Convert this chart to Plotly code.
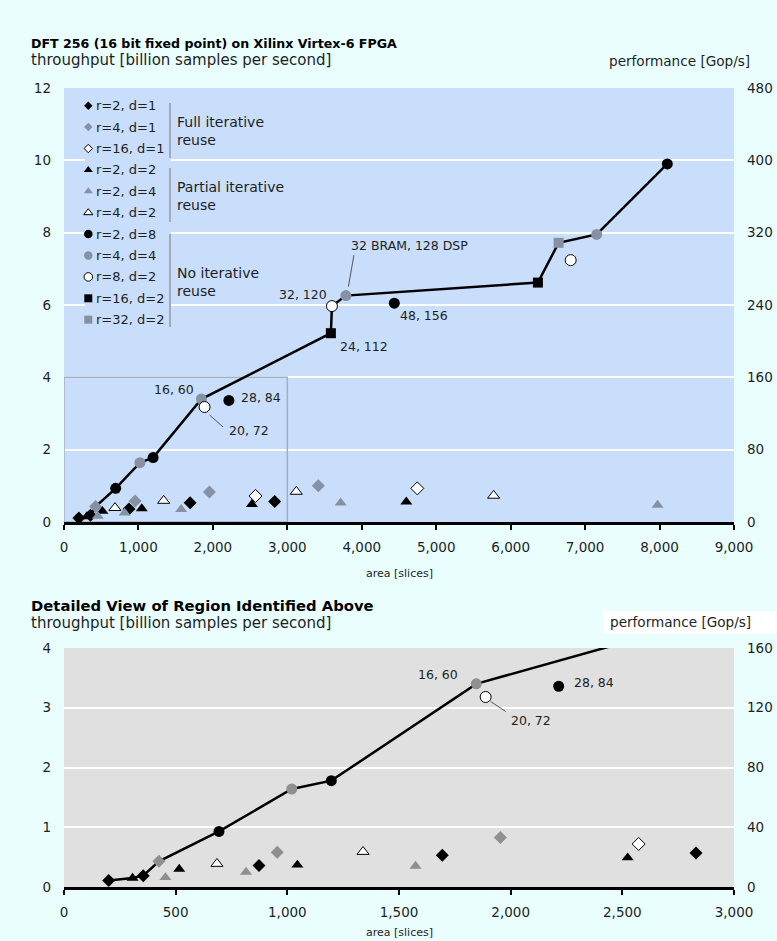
import plotly.graph_objects as go

# ---------------- data: area [slices] vs. throughput [billion samples/s] ----------------
r2d1_area = [200, 355, 873, 1694, 2830]
r2d1_tp = [0.11, 0.19, 0.36, 0.53, 0.57]
r4d1_area = [425, 955, 1954, 3416]
r4d1_tp = [0.43, 0.58, 0.83, 1.00]
r16d1_area = [2573, 4746]
r16d1_tp = [0.72, 0.93]
r2d2_area = [307, 516, 1045, 2524, 4598]
r2d2_tp = [0.15, 0.30, 0.37, 0.49, 0.56]
r2d4_area = [454, 815, 1574, 3716, 7974]
r2d4_tp = [0.16, 0.25, 0.35, 0.53, 0.47]
r4d2_area = [685, 1339, 3120, 5771]
r4d2_tp = [0.39, 0.59, 0.84, 0.73]
r2d8_area = [694, 1197, 2215, 4437, 8104]
r2d8_tp = [0.93, 1.78, 3.36, 6.05, 9.90]
r4d4_area = [1020, 1846, 3787, 7155]
r4d4_tp = [1.64, 3.40, 6.26, 7.95]
r8d2_area = [1888, 3599, 6806]
r8d2_tp = [3.18, 5.97, 7.24]
r16d2_area = [3585, 6366]
r16d2_tp = [5.22, 6.62]
r32d2_area = [6644]
r32d2_tp = [7.72]

# Pareto frontier (area, throughput)
front_area = [200, 307, 355, 425, 694, 1020, 1197, 1846, 3585, 3599, 3787, 6366, 6644, 7155, 8104]
front_tp = [0.11, 0.15, 0.19, 0.43, 0.93, 1.64, 1.78, 3.40, 5.22, 5.97, 6.26, 6.62, 7.72, 7.95, 9.90]

# performance [Gop/s] = throughput * 40
GOPS_PER_GSPS = 40

top_xticks = list(range(0, 9001, 1000))
bot_xticks = list(range(0, 3001, 500))

series = [
    # name, area, tp, symbol, fill
    ("r=2, d=1", r2d1_area, r2d1_tp, "diamond", "black"),
    ("r=4, d=1", r4d1_area, r4d1_tp, "diamond", "gray"),
    ("r=16, d=1", r16d1_area, r16d1_tp, "diamond", "white"),
    ("r=2, d=2", r2d2_area, r2d2_tp, "triangle-up", "black"),
    ("r=2, d=4", r2d4_area, r2d4_tp, "triangle-up", "gray"),
    ("r=4, d=2", r4d2_area, r4d2_tp, "triangle-up", "white"),
    ("r=2, d=8", r2d8_area, r2d8_tp, "circle", "black"),
    ("r=4, d=4", r4d4_area, r4d4_tp, "circle", "gray"),
    ("r=8, d=2", r8d2_area, r8d2_tp, "circle", "white"),
    ("r=16, d=2", r16d2_area, r16d2_tp, "square", "black"),
    ("r=32, d=2", r32d2_area, r32d2_tp, "square", "gray"),
]

# ---------------- page geometry (pixels) ----------------
W, H = 777, 941
PX_L, PX_R = 64, 734
TOP_T, TOP_B = 88, 522
BOT_T, BOT_B = 648, 887
FONT = "DejaVu Sans"
TXT = "#1e1e1e"
PAGE_BG = "#EAFEFE"
TOP_BG = "#C9DEFA"
BOT_BG = "#E0E0E0"
GRAY_TOP = "#8691A4"
GRAY_BOT = "#8F8F8F"

SIZES = {"diamond": 10, "triangle-up": 10.5, "circle": 11, "square": 10}


def px(xp):
    return xp / W


def py(yp):
    return 1 - yp / H


def top_data(xp, yp):
    return ((xp - PX_L) * 9000 / (PX_R - PX_L), (TOP_B - yp) * 12 / (TOP_B - TOP_T))


def marker(symbol, fill, gray, size):
    if fill == "white":
        return dict(symbol=symbol, size=size, color="white", line=dict(color="black", width=1))
    col = "black" if fill == "black" else gray
    return dict(symbol=symbol, size=size, color=col, line=dict(width=0))


fig = go.Figure()

# frontier line in both panels
for xa, ya in (("x", "y"), ("x2", "y3")):
    fig.add_trace(go.Scatter(x=front_area, y=front_tp, mode="lines", xaxis=xa, yaxis=ya,
                             line=dict(color="black", width=2.5), showlegend=False,
                             hoverinfo="skip"))

# design points in both panels
for xa, ya, gray in (("x", "y", GRAY_TOP), ("x2", "y3", GRAY_BOT)):
    for name, a, t, sym, fill in series:
        fig.add_trace(go.Scatter(x=a, y=t, mode="markers", name=name, xaxis=xa, yaxis=ya,
                                 marker=marker(sym, fill, gray, SIZES[sym]), showlegend=False))

# empty traces that pin the right-hand performance axes
fig.add_trace(go.Scatter(x=[None], y=[None], xaxis="x", yaxis="y2", showlegend=False))
fig.add_trace(go.Scatter(x=[None], y=[None], xaxis="x2", yaxis="y4", showlegend=False))

shapes = []
annotations = []

# plot-area backgrounds
shapes.append(dict(type="rect", xref="x domain", yref="y domain", x0=0, x1=1, y0=0, y1=1,
                   fillcolor=TOP_BG, line=dict(width=0), layer="below"))
shapes.append(dict(type="rect", xref="x2 domain", yref="y3 domain", x0=0, x1=1, y0=0, y1=1,
                   fillcolor=BOT_BG, line=dict(width=0), layer="below"))

# white box behind the lower panel's right-axis title
shapes.append(dict(type="rect", xref="paper", yref="paper", x0=px(603), x1=1,
                   y0=py(634), y1=py(611), fillcolor="white", line=dict(width=0), layer="below"))

# region shown in the detailed view
shapes.append(dict(type="rect", xref="x", yref="y", x0=0, x1=3000, y0=0, y1=4,
                   line=dict(color="#A2B0C4", width=1.5), fillcolor="rgba(0,0,0,0)",
                   layer="between"))

# ---------------- custom legend ----------------
lx0, ly0 = top_data(85, 95)
lx1, ly1 = top_data(171, 334)
shapes.append(dict(type="rect", xref="x", yref="y", x0=lx0, x1=lx1, y0=ly1, y1=ly0,
                   fillcolor=TOP_BG, line=dict(width=0), layer="between"))

LEG_X_MARK = 88.3
LEG_X_TEXT = 93.5
LEG_Y0 = 105.7
LEG_DY = 21.4
LEG_SIZES = {"diamond": 6.5, "triangle-up": 8, "circle": 8.5, "square": 8}
for i, (name, a, t, sym, fill) in enumerate(series):
    yp = LEG_Y0 + i * LEG_DY
    mx, my = top_data(LEG_X_MARK, yp)
    fig.add_trace(go.Scatter(x=[mx], y=[my], mode="markers", xaxis="x", yaxis="y",
                             marker=marker(sym, fill, GRAY_TOP, LEG_SIZES[sym]),
                             showlegend=False, hoverinfo="skip", cliponaxis=False))
    annotations.append(dict(text=name, xref="paper", yref="paper", x=px(LEG_X_TEXT), y=py(yp),
                            xanchor="left", yanchor="middle", showarrow=False,
                            font=dict(family=FONT, size=13, color=TXT)))

groups = [("Full iterative<br>reuse", 103, 158, 131),
          ("Partial iterative<br>reuse", 168, 222, 196),
          ("No iterative<br>reuse", 234, 327, 282)]
for label, g0, g1, gy in groups:
    shapes.append(dict(type="line", xref="paper", yref="paper", x0=px(170), x1=px(170),
                       y0=py(g0), y1=py(g1), line=dict(color="#7A7A7A", width=1), layer="above"))
    annotations.append(dict(text=label, xref="paper", yref="paper", x=px(175), y=py(gy),
                            xanchor="left", yanchor="middle", align="left", showarrow=False,
                            font=dict(family=FONT, size=14, color=TXT)))

# ---------------- point labels (BRAM, DSP) ----------------
LBL = dict(family=FONT, size=12.5, color=TXT)


def point_label(xa, ya, x, y, text, anchor, dx, dy):
    annotations.append(dict(text=text, xref=xa, yref=ya, x=x, y=y, xanchor=anchor,
                            yanchor="middle", xshift=dx, yshift=dy, showarrow=False, font=LBL))


def leader(xa, ya, x, y, ox0, oy0, ox1, oy1):
    shapes.append(dict(type="line", xref=xa, yref=ya, xsizemode="pixel", ysizemode="pixel",
                       xanchor=x, yanchor=y, x0=ox0, y0=oy0, x1=ox1, y1=oy1,
                       line=dict(color="#555555", width=1), layer="above"))


# top panel
point_label("x", "y", r4d4_area[1], r4d4_tp[1], "16, 60", "right", -5, 10)
point_label("x", "y", r8d2_area[0], r8d2_tp[0], "20, 72", "left", 22, -24)
leader("x", "y", r8d2_area[0], r8d2_tp[0], 5, -8, 18.5, -20)
point_label("x", "y", r2d8_area[2], r2d8_tp[2], "28, 84", "left", 10, 3)
point_label("x", "y", r16d2_area[0], r16d2_tp[0], "24, 112", "left", 7, -13)
point_label("x", "y", r8d2_area[1], r8d2_tp[1], "32, 120", "right", -3, 12)
point_label("x", "y", r2d8_area[3], r2d8_tp[3], "48, 156", "left", 4, -12)
point_label("x", "y", r4d4_area[2], r4d4_tp[2], "32 BRAM, 128 DSP", "left", 3, 50)
leader("x", "y", r4d4_area[2], r4d4_tp[2], 2.5, 9, 8, 40.5)

# bottom panel
point_label("x2", "y3", r4d4_area[1], r4d4_tp[1], "16, 60", "right", -16, 9)
point_label("x2", "y3", r8d2_area[0], r8d2_tp[0], "20, 72", "left", 23, -23)
leader("x2", "y3", r8d2_area[0], r8d2_tp[0], 5, -4.5, 20, -14.5)
point_label("x2", "y3", r2d8_area[2], r2d8_tp[2], "28, 84", "left", 13, 4)

# ---------------- titles ----------------
def text(t, xp, yp, size, bold=False, anchor="left", **kw):
    annotations.append(dict(text=f"<b>{t}</b>" if bold else t, xref="paper", yref="paper",
                            x=px(xp), y=py(yp), xanchor=anchor, yanchor="middle",
                            showarrow=False, font=dict(family=FONT, size=size, color="black" if bold else TXT),
                            **kw))


text("DFT 256 (16 bit fixed point) on Xilinx Virtex-6 FPGA", 29, 43, 12.6, bold=True)
text("throughput [billion samples per second]", 29, 60, 15)
text("performance [Gop/s]", 752, 61, 13.6, anchor="right")
text("area [slices]", 399, 573, 11, anchor="center")

text("Detailed View of Region Identified Above", 29, 605, 14.8, bold=True)
text("throughput [billion samples per second]", 29, 623, 15)
text("performance [Gop/s]", 753, 622, 13.6, anchor="right")
text("area [slices]", 399, 932, 11, anchor="center")

# ---------------- axes ----------------
tickfont = dict(family=FONT, size=13.5, color=TXT)
xdom = [px(PX_L), px(PX_R)]
xcommon = dict(domain=xdom, showgrid=False, zeroline=False, showline=True, linecolor="black",
               linewidth=2.5, ticks="outside", ticklen=5, tickwidth=1.5, tickcolor="black",
               tickformat=",d", tickfont=tickfont, ticklabelstandoff=6, fixedrange=True,
               automargin=False)
ycommon = dict(showgrid=True, gridcolor="white", gridwidth=1.6, zeroline=False, showline=False,
               ticks="", tickfont=tickfont, ticklabelstandoff=12, fixedrange=True,
               automargin=False)
yright = dict(side="right", showgrid=False, zeroline=False, ticks="", tickfont=tickfont,
              ticklabelstandoff=12, fixedrange=True, automargin=False)

fig.update_layout(
    width=W, height=H, margin=dict(l=0, r=0, t=0, b=0, autoexpand=False),
    paper_bgcolor=PAGE_BG, plot_bgcolor="rgba(0,0,0,0)",
    showlegend=False,
    xaxis=dict(anchor="y", range=[0, 9000], tickvals=top_xticks, **xcommon),
    yaxis=dict(anchor="x", domain=[py(TOP_B), py(TOP_T)], range=[0, 12], dtick=2, **ycommon),
    yaxis2=dict(anchor="x", overlaying="y", range=[0, 12 * GOPS_PER_GSPS], dtick=80, **yright),
    xaxis2=dict(anchor="y3", range=[0, 3000], tickvals=bot_xticks, **xcommon),
    yaxis3=dict(anchor="x2", domain=[py(BOT_B), py(BOT_T)], range=[0, 4], dtick=1, **ycommon),
    yaxis4=dict(anchor="x2", overlaying="y3", range=[0, 4 * GOPS_PER_GSPS], dtick=40, **yright),
    shapes=shapes,
    annotations=annotations,
)

fig.write_html("out.html")
